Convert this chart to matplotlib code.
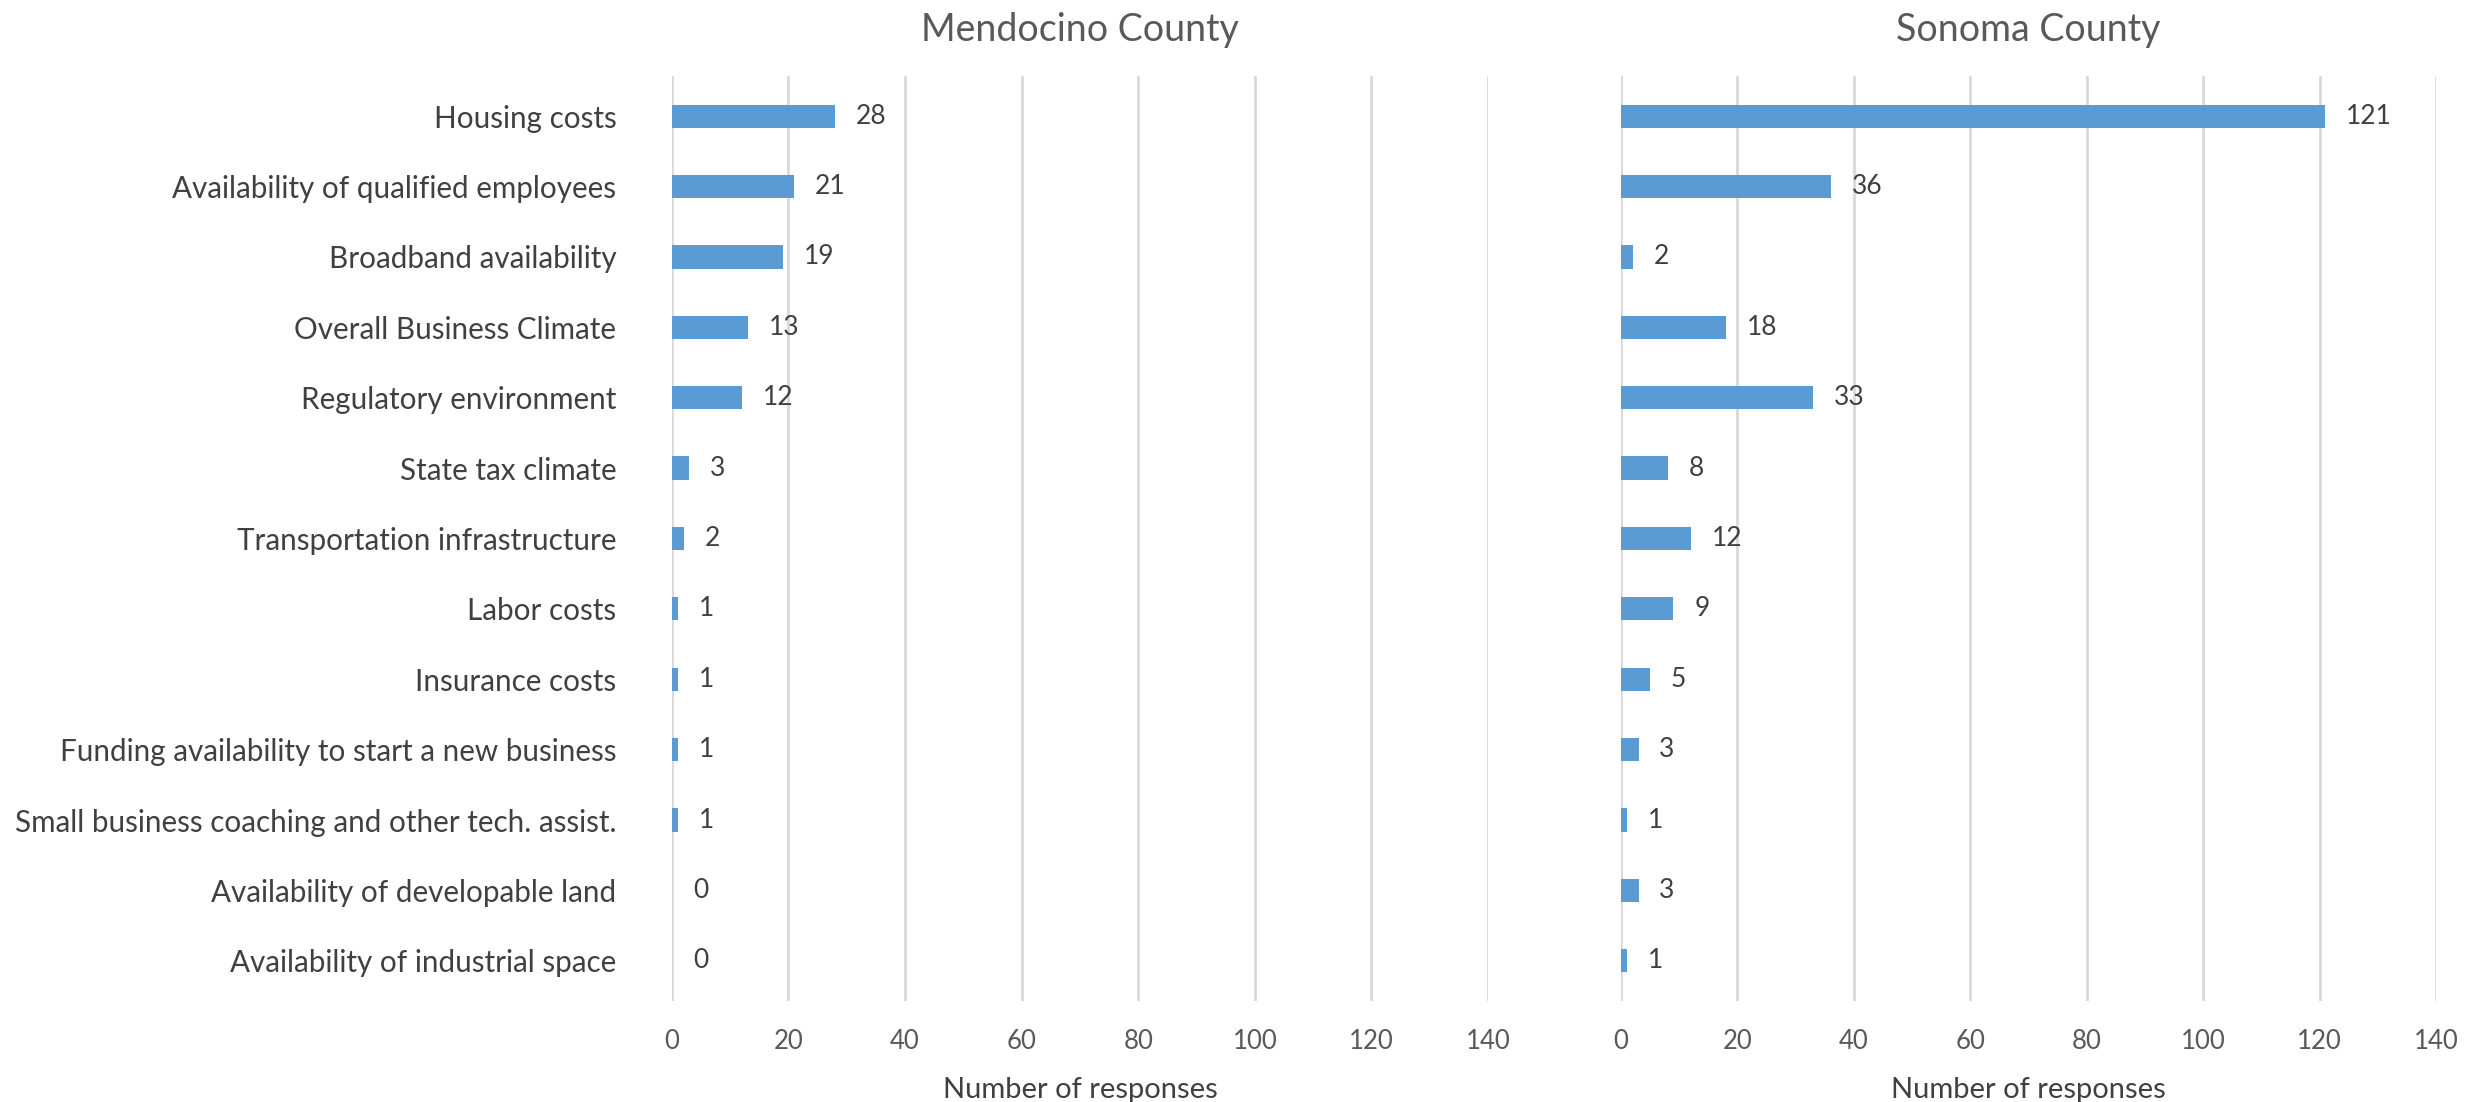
import numpy as np
import matplotlib.pyplot as plt

plt.rcParams['font.family'] = ['Lato', 'DejaVu Sans']

# 数据
categories = ['Housing costs', 'Availability of qualified employees', 'Broadband availability',
              'Overall Business Climate', 'Regulatory environment', 'State tax climate',
              'Transportation infrastructure', 'Labor costs', 'Insurance costs',
              'Funding availability to start a new business',
              'Small business coaching and other tech. assist.',
              'Availability of developable land', 'Availability of industrial space']
mendocino = [28, 21, 19, 13, 12, 3, 2, 1, 1, 1, 1, 0, 0]
sonoma = [121, 36, 2, 18, 33, 8, 12, 9, 5, 3, 1, 3, 1]
titles = ['Mendocino County', 'Sonoma County']
xticks = [0, 20, 40, 60, 80, 100, 120, 140]

bar_color = '#5B9BD5'
grid_color = '#D9D9D9'

fig = plt.figure(figsize=(24.84, 11.02), dpi=100)
ax1 = fig.add_axes([0.2705, 0.0917, 0.3285, 0.8393])
ax2 = fig.add_axes([0.6526, 0.0917, 0.3281, 0.8393])

y = np.arange(len(categories))

for ax, vals, title in zip([ax1, ax2], [mendocino, sonoma], titles):
    ax.barh(y, vals, height=0.33, color=bar_color, zorder=3)
    for yi, v in zip(y, vals):
        ax.annotate(str(v), xy=(v, yi), xytext=(15, 0), textcoords='offset points',
                    ha='left', va='center', fontsize=19, color='#404040')
    ax.set_xlim(0, 140)
    ax.set_ylim(len(categories) - 0.43, -0.57)
    ax.set_xticks(xticks)
    ax.grid(axis='x', color=grid_color, linewidth=2, zorder=0)
    for s in ax.spines.values():
        s.set_visible(False)
    ax.tick_params(axis='x', length=0, pad=20, labelsize=18.5, labelcolor='#595959')
    ax.tick_params(axis='y', length=0)
    ax.set_xlabel('Number of responses', fontsize=21, color='#404040', labelpad=17)
    ax.set_title(title, fontsize=27, color='#595959', pad=25)

ax1.set_yticks(y)
ax1.set_yticklabels(categories, fontsize=21.3, color='#404040')
ax1.tick_params(axis='y', pad=40)
ax2.set_yticks([])

plt.savefig('out.png', dpi=100)
